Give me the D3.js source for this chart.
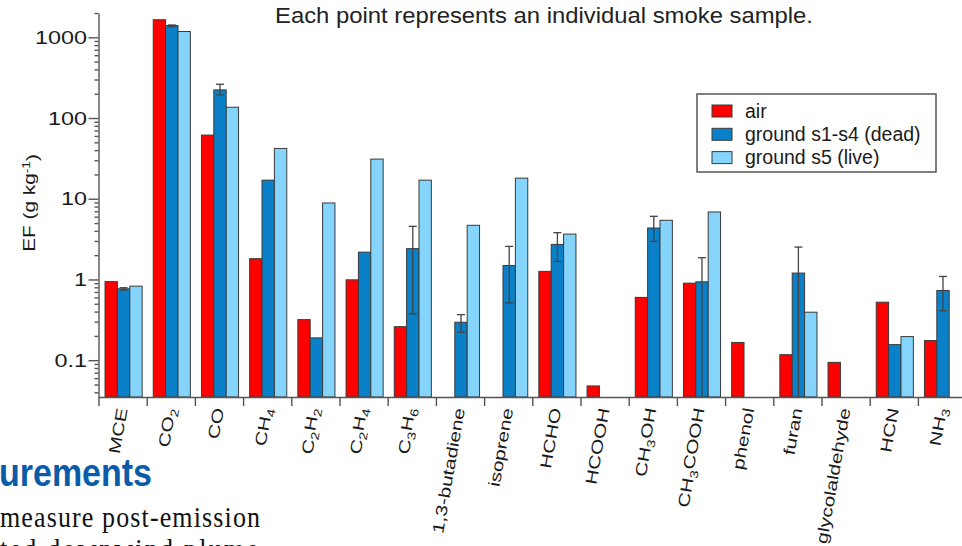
<!DOCTYPE html>
<html>
<head>
<meta charset='utf-8'>
<script src='https://d3js.org/d3.v7.min.js'></script>
<style>
  body { margin: 0; background: #fff; overflow: hidden; }
  text { font-family: Arial, 'Liberation Sans', Helvetica, sans-serif; }
</style>
</head>
<body>
<script>
'use strict';

// compounds along the x axis ("_n" marks a subscript digit)
var categories = ['MCE', 'CO_2', 'CO', 'CH_4', 'C_2H_2', 'C_2H_4', 'C_3H_6', '1,3-butadiene',
                  'isoprene', 'HCHO', 'HCOOH', 'CH_3OH', 'CH_3COOH', 'phenol', 'furan',
                  'glycolaldehyde', 'HCN', 'NH_3'];
var seriesNames = ['air', 'ground s1-s4 (dead)', 'ground s5 (live)'];

// emission factors, g/kg (MCE is unitless)
var airEF  = [0.94, 1650, 61.5, 1.81, 0.318, 0.99, 0.26, null, null, 1.26, 0.048, 0.60, 0.90,
              0.166, 0.117, 0.094, 0.523, 0.175];
var deadEF = [0.766, 1400, 223, 17.0, 0.189, 2.18, 2.41, 0.295, 1.49, 2.72, null, 4.34, 0.935,
              null, 1.2, null, 0.156, 0.73];
var liveEF = [0.826, 1180, 136, 42, 8.87, 31, 17.0, 4.69, 18.0, 3.65, null, 5.41, 6.86,
              null, 0.393, null, 0.196, null];
// error bars on the dead-fuel ground samples
var deadLo = [0.74, 1350, 193, null, null, null, 0.375, 0.222, 0.513, 1.67, null, 2.96, 0.01,
              null, 0.01, null, null, 0.41];
var deadHi = [0.79, 1420, 262, null, null, null, 4.55, 0.367, 2.57, 3.8, null, 6.06, 1.86,
              null, 2.52, null, null, 1.09];

var yTicks = [0.1, 1, 10, 100, 1000];
var seriesColors = ['#ff0000', '#0a80c8', '#84d4fc'];

var WIDTH = 962, HEIGHT = 546;
var plotLeft = 98.5, plotBottom = 397, plotTop = 13, step = 48.2;

var svg = d3.select('body').append('svg')
  .attr('width', WIDTH).attr('height', HEIGHT);

// page text around the figure
svg.append('text')
  .attr('x', 275).attr('y', 23)
  .attr('textLength', 538).attr('lengthAdjust', 'spacingAndGlyphs')
  .style('font-size', '22px').style('fill', '#222')
  .text('Each point represents an individual smoke sample.');

svg.append('text')
  .attr('transform', 'translate(-1,486) scale(1,1.15)')
  .style('font-size', '34px').style('font-weight', 'bold').style('fill', '#0b5ca8')
  .text('urements');

svg.append('text')
  .attr('transform', 'translate(0,527) scale(1,1.12)')
  .attr('textLength', 260).attr('lengthAdjust', 'spacing')
  .style('font-family', "'Liberation Serif', 'Times New Roman', serif")
  .style('font-size', '26px').style('fill', '#111')
  .text('measure post-emission');

svg.append('text')
  .attr('transform', 'translate(0,559) scale(1,1.12)')
  .attr('textLength', 258).attr('lengthAdjust', 'spacing')
  .style('font-family', "'Liberation Serif', 'Times New Roman', serif")
  .style('font-size', '26px').style('fill', '#111')
  .text('ted downwind plume');

// scales
var xEdge = d3.scaleLinear().domain([0, categories.length])
  .range([plotLeft, plotLeft + step * categories.length]);
var x0 = d3.scaleBand().domain(categories).range(xEdge.range())
  .paddingInner(0.23).paddingOuter(0.115);
var x1 = d3.scaleBand().domain(seriesNames).range([0, x0.bandwidth()]);
var y = d3.scaleLog().domain([0.035, 2000]).range([plotBottom, plotTop]).clamp(true);

var chart = svg.append('g').attr('class', 'chart');

// bars
var rows = categories.map(function (c, i) {
  return { cat: c, vals: [airEF[i], deadEF[i], liveEF[i]], lo: deadLo[i], hi: deadHi[i] };
});

var groups = chart.selectAll('g.grp')
  .data(rows).enter().append('g')
  .attr('class', 'grp')
  .attr('transform', function (d) { return 'translate(' + (x0(d.cat) + 1) + ',0)'; });

groups.selectAll('rect')
  .data(function (d) {
    return d.vals.map(function (v, j) { return { s: seriesNames[j], v: v, j: j }; })
      .filter(function (e) { return e.v != null; });
  })
  .enter().append('rect')
  .attr('x', function (d) { return x1(d.s); })
  .attr('width', x1.bandwidth())
  .attr('y', function (d) { return y(d.v); })
  .attr('height', function (d) { return plotBottom - y(d.v); })
  .style('fill', function (d) { return seriesColors[d.j]; })
  .style('stroke', '#3a3a3a')
  .style('stroke-width', 1);

// error bars on the dead series
var errs = groups.filter(function (d) { return d.hi != null; });
var ex = x1(seriesNames[1]) + x1.bandwidth() / 2;
errs.append('line')
  .attr('x1', ex).attr('x2', ex)
  .attr('y1', function (d) { return y(d.lo); })
  .attr('y2', function (d) { return y(d.hi); })
  .style('stroke', '#444').style('stroke-width', 1.3);
errs.append('line')
  .attr('x1', ex - 4).attr('x2', ex + 4)
  .attr('y1', function (d) { return y(d.hi); })
  .attr('y2', function (d) { return y(d.hi); })
  .style('stroke', '#444').style('stroke-width', 1.3);
errs.filter(function (d) { return d.lo > y.domain()[0]; })
  .append('line')
  .attr('x1', ex - 4).attr('x2', ex + 4)
  .attr('y1', function (d) { return y(d.lo); })
  .attr('y2', function (d) { return y(d.lo); })
  .style('stroke', '#444').style('stroke-width', 1.3);

// y axis: major and minor log ticks
var minor = [];
[0.01, 0.1, 1, 10, 100, 1000].forEach(function (dec) {
  for (var k = 2; k <= 9; k++) {
    var v = dec * k;
    if (v >= y.domain()[0] && v <= y.domain()[1]) minor.push(v);
  }
});

var yAxisMajor = d3.axisLeft(y).tickValues(yTicks).tickSize(10).tickFormat('');
var yAxisMinor = d3.axisLeft(y).tickValues(minor).tickSize(4).tickFormat('').tickSizeOuter(0);

chart.append('g').attr('transform', 'translate(' + plotLeft + ',0)').call(yAxisMinor);
chart.append('g').attr('transform', 'translate(' + plotLeft + ',0)').call(yAxisMajor)
  .select('.domain').remove();

chart.selectAll('.ylab')
  .data(yTicks).enter().append('text')
  .attr('class', 'ylab')
  .attr('transform', function (d) { return 'translate(87,' + (y(d) + 6.5) + ') scale(1.3,1)'; })
  .style('text-anchor', 'end')
  .style('font-size', '18px')
  .style('fill', '#1a1a1a')
  .text(function (d) { return d3.format('~g')(d); });

// x axis: ticks between compounds
var xAxis = d3.axisBottom(xEdge).tickValues(d3.range(categories.length + 1))
  .tickSize(9).tickSizeOuter(0).tickFormat('');
chart.append('g').attr('transform', 'translate(0,' + plotBottom + ')').call(xAxis);

chart.selectAll('.domain, .tick line')
  .style('stroke', '#555').style('stroke-width', 1.4);

// x labels, rotated, with chemical subscripts
var xLabels = chart.selectAll('.xlab')
  .data(categories).enter().append('text')
  .attr('class', 'xlab')
  .attr('transform', function (d) {
    return 'translate(' + (x0(d) + x0.bandwidth() / 2 + 5) + ',409) rotate(-80) scale(1.3,1)';
  })
  .style('text-anchor', 'end')
  .style('font-size', '16px')
  .style('fill', '#1a1a1a');

xLabels.each(function (d) {
  var t = d3.select(this);
  var parts = d.split(/(_\d)/).filter(function (p) { return p.length; });
  var shifted = false;
  parts.forEach(function (p) {
    if (p[0] === '_') {
      t.append('tspan').attr('dy', '0.3em').style('font-size', '11.5px').text(p.slice(1));
      shifted = true;
    } else {
      t.append('tspan').attr('dy', shifted ? '-0.3em' : null).text(p);
      shifted = false;
    }
  });
});

// y axis title
var yTitle = chart.append('text')
  .attr('transform', 'translate(35,203) rotate(-90) scale(1.3,1)')
  .style('text-anchor', 'middle')
  .style('font-size', '16px')
  .style('fill', '#1a1a1a');
yTitle.append('tspan').text('EF (g kg');
yTitle.append('tspan').attr('dy', '-0.5em').style('font-size', '10.5px').text('-1');
yTitle.append('tspan').attr('dy', '0.5em').text(')');

// legend
var legend = svg.append('g').attr('transform', 'translate(697,94)');
legend.append('rect')
  .attr('width', 239).attr('height', 78)
  .style('fill', '#fff').style('stroke', '#555').style('stroke-width', 1.5);

var items = legend.selectAll('.item')
  .data(seriesNames).enter().append('g')
  .attr('class', 'item')
  .attr('transform', function (d, i) { return 'translate(15,' + (11 + i * 23.3) + ')'; });
items.append('rect')
  .attr('width', 20).attr('height', 12)
  .style('fill', function (d, i) { return seriesColors[i]; })
  .style('stroke', '#3a3a3a').style('stroke-width', 1);
items.append('text')
  .attr('x', 33).attr('y', 12.5)
  .style('font-size', '19.5px').style('fill', '#1a1a1a')
  .text(function (d) { return d; });
</script>
</body>
</html>
